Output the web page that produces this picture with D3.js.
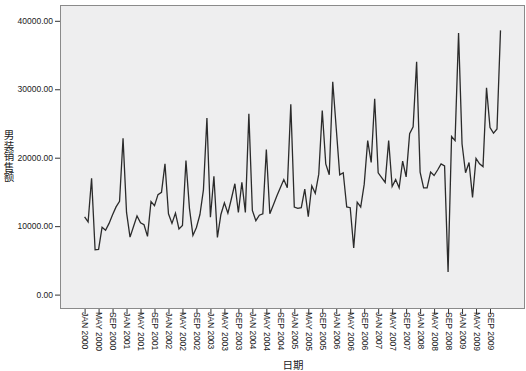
<!DOCTYPE html>
<html>
<head>
<meta charset="utf-8">
<script src="https://cdn.jsdelivr.net/npm/d3@7.9.0/dist/d3.min.js"></script>
<style>
  body { margin: 0; background: #fff; }
  svg { display: block; }
</style>
</head>
<body>
<svg id="chart" width="526" height="371"></svg>
<script>
// monthly men's clothing sales, Jan 2000 .. Dec 2009
const sales = [
  11360, 10610, 17000, 6560, 6610, 9840, 9400, 10400, 11660, 12810, 13640, 22850,
  12000, 8400, 9950, 11500, 10500, 10200, 8500, 13600, 13000, 14600, 14950, 19100,
  11800, 10400, 11900, 9600, 10100, 19600, 12600, 8650, 9800, 11700, 15300, 25800,
  11300, 17300, 8350, 11700, 13400, 11900, 14000, 16200, 12000, 16400, 12000, 26400,
  12300, 10800, 11600, 11800, 21200, 11800, 13100, 14400, 15600, 16800, 15600, 27800,
  12800, 12600, 12700, 15400, 11400, 15900, 14800, 17600, 26900, 19100, 17500, 31100,
  24300, 17500, 17800, 12800, 12700, 6800, 13500, 12800, 16100, 22500, 19300, 28600,
  17800, 17100, 16400, 22500, 15800, 16800, 15600, 19500, 17200, 23500, 24500, 34000,
  17900, 15600, 15600, 17900, 17400, 18200, 19100, 18800, 3300, 23100, 22500, 38200,
  22000, 17800, 19300, 14200, 19900, 19100, 18700, 30200, 24400, 23600, 24200, 38600
];

const yTicks = [0, 10000, 20000, 30000, 40000];

// x tick labels every 4 months
const xTickLabels = [
  "JAN 2000", "MAY 2000", "SEP 2000", "JAN 2001", "MAY 2001", "SEP 2001",
  "JAN 2002", "MAY 2002", "SEP 2002", "JAN 2003", "MAY 2003", "SEP 2003",
  "JAN 2004", "MAY 2004", "SEP 2004", "JAN 2005", "MAY 2005", "SEP 2005",
  "JAN 2006", "MAY 2006", "SEP 2006", "JAN 2007", "MAY 2007", "SEP 2007",
  "JAN 2008", "MAY 2008", "SEP 2008", "JAN 2009", "MAY 2009", "SEP 2009"
];
const xTickStep = 4;

const yTitle = "男装销售额";
const xTitle = "日期";

const svg = d3.select("#chart");

// plot frame
const frame = { left: 60, top: 5, right: 525, bottom: 308 };

svg.append("rect")
  .attr("x", frame.left + 0.5)
  .attr("y", frame.top + 0.5)
  .attr("width", frame.right - frame.left - 1)
  .attr("height", frame.bottom - frame.top)
  .attr("fill", "#eeeeef")
  .attr("stroke", "#8a8a8a")
  .attr("stroke-width", 1);

const x = d3.scaleLinear()
  .domain([0, sales.length - 1])
  .range([84.6, 500.5]);

const y = d3.scaleLinear()
  .domain([0, 40000])
  .range([294.6, 20.8]);

// y axis
const yAxis = svg.append("g")
  .attr("transform", `translate(${frame.left},0)`)
  .call(d3.axisLeft(y)
    .tickValues(yTicks)
    .tickSize(5)
    .tickFormat(d3.format(".2f")));
yAxis.select(".domain").remove();
yAxis.selectAll(".tick line").attr("stroke", "#333");
yAxis.selectAll(".tick text")
  .attr("x", -7)
  .attr("fill", "#222")
  .style("font-family", "Arial, 'Liberation Sans', sans-serif")
  .style("font-size", "8.5px");

// x axis
const xTickIdx = xTickLabels.map((_, i) => i * xTickStep);
const xAxis = svg.append("g")
  .attr("transform", `translate(0,${frame.bottom + 1})`)
  .call(d3.axisBottom(x)
    .tickValues(xTickIdx)
    .tickSize(5)
    .tickFormat((d, i) => xTickLabels[i]));
xAxis.select(".domain").remove();
xAxis.selectAll(".tick line").attr("stroke", "#333");
xAxis.selectAll(".tick text")
  .attr("transform", "rotate(90)")
  .attr("x", 3)
  .attr("y", 0)
  .attr("dy", "0.35em")
  .attr("text-anchor", "start")
  .attr("fill", "#222")
  .style("font-family", "Arial, 'Liberation Sans', sans-serif")
  .style("font-size", "8.5px");

// series line
const line = d3.line()
  .x((d, i) => x(i))
  .y(d => y(d));

svg.append("path")
  .datum(sales)
  .attr("d", line)
  .attr("fill", "none")
  .attr("stroke", "#2b2b2b")
  .attr("stroke-width", 1.3)
  .attr("stroke-linejoin", "miter");

// y title: upright vertical text
svg.append("text")
  .attr("x", 9)
  .attr("y", 130)
  .style("writing-mode", "vertical-rl")
  .style("text-orientation", "upright")
  .style("font-family", "'Noto Sans CJK SC', sans-serif")
  .style("font-size", "10.5px")
  .attr("fill", "#222")
  .text(yTitle);

svg.append("text")
  .attr("x", 293)
  .attr("y", 364)
  .attr("text-anchor", "middle")
  .attr("dominant-baseline", "central")
  .style("font-family", "'Noto Sans CJK SC', sans-serif")
  .style("font-size", "10.5px")
  .attr("fill", "#222")
  .text(xTitle);
</script>
</body>
</html>
